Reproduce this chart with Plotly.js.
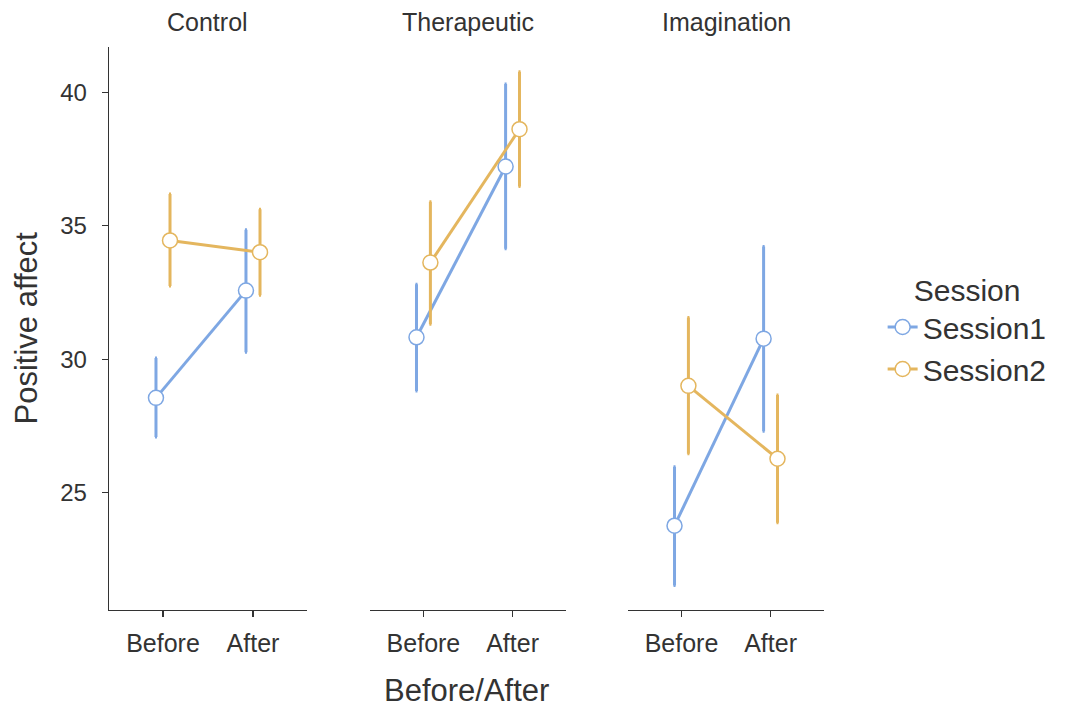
<!DOCTYPE html>
<html>
<head>
<meta charset="utf-8">
<script src="https://cdn.plot.ly/plotly-3.0.1.min.js"></script>
<style>
  html, body { margin: 0; padding: 0; background: #ffffff; }
  #chart { width: 1081px; height: 707px; }
</style>
</head>
<body>
<div id="chart"></div>
<script>
// Facets (conditions) and the two time points within each facet
const conditions = ['Control', 'Therapeutic', 'Imagination'];
const timepoints = ['Before', 'After'];
const sessions = ['Session1', 'Session2'];

// Means and confidence limits, ordered Control Before/After, Therapeutic Before/After, Imagination Before/After
const session1Mean = [28.55, 32.57, 30.82, 37.22, 23.76, 30.77];
const session1Low  = [27.08, 30.26, 28.81, 34.14, 21.52, 27.30];
const session1High = [30.04, 34.85, 32.81, 40.31, 25.97, 34.22];

const session2Mean = [34.45, 34.01, 33.62, 38.62, 29.00, 26.27];
const session2Low  = [32.74, 32.40, 31.31, 36.47, 26.46, 23.87];
const session2High = [36.19, 35.62, 35.90, 40.77, 31.56, 28.66];

const yTicks = [25, 30, 35, 40];

const sessionColors = ['#7ea7e3', '#e4b65e'];
const dodge = [-0.078, 0.078];   // horizontal dodge for each session
const fontFamily = 'Liberation Sans, Arial, Helvetica, sans-serif';
const textColor = '#333333';

const seriesMean = [session1Mean, session2Mean];
const seriesLow = [session1Low, session2Low];
const seriesHigh = [session1High, session2High];

const traces = [];
conditions.forEach((cond, ci) => {
  sessions.forEach((sess, si) => {
    const idx = timepoints.map((_, ti) => ci * timepoints.length + ti);
    const y = idx.map(i => seriesMean[si][i]);
    const up = idx.map(i => seriesHigh[si][i] - seriesMean[si][i]);
    const dn = idx.map(i => seriesMean[si][i] - seriesLow[si][i]);
    const x = timepoints.map((_, ti) => ti + 1 + dodge[si]);
    traces.push({
      type: 'scatter',
      mode: 'lines+markers',
      name: sess,
      showlegend: ci === 0,
      xaxis: ci === 0 ? 'x' : 'x' + (ci + 1),
      yaxis: 'y',
      x: x,
      y: y,
      line: { color: sessionColors[si], width: 3 },
      marker: {
        symbol: 'circle',
        size: 15,
        color: '#ffffff',
        line: { color: sessionColors[si], width: 1.5 }
      },
      error_y: {
        type: 'data',
        symmetric: false,
        array: up,
        arrayminus: dn,
        color: sessionColors[si],
        thickness: 3,
        width: 1
      },
      hoverinfo: 'x+y+name'
    });
  });
});

const domains = [[0, 0.2769], [0.3650, 0.6392], [0.7259, 1]];

function xAxis(di) {
  return {
    domain: domains[di],
    anchor: 'y',
    range: [0.4, 2.6],
    tickmode: 'array',
    tickvals: timepoints.map((_, i) => i + 1),
    ticktext: timepoints,
    showgrid: false,
    zeroline: false,
    showline: true,
    linecolor: '#333333',
    linewidth: 1.3,
    ticks: 'outside',
    ticklen: 6,
    tickwidth: 1.3,
    tickcolor: '#333333',
    ticklabelstandoff: 5,
    tickfont: { family: fontFamily, size: 25, color: textColor },
    fixedrange: true
  };
}

const annotations = conditions.map((cond, ci) => ({
  text: cond,
  xref: 'paper', yref: 'paper',
  x: (domains[ci][0] + domains[ci][1]) / 2, xanchor: 'center',
  y: 1, yanchor: 'middle', yshift: 25,
  showarrow: false,
  font: { family: fontFamily, size: 25, color: textColor }
}));
annotations.push({
  text: 'Before/After',
  xref: 'paper', yref: 'paper',
  x: 0.5, xanchor: 'center',
  y: 0, yanchor: 'middle', yshift: -80,
  showarrow: false,
  font: { family: fontFamily, size: 31, color: textColor }
});
annotations.push({
  text: 'Positive affect',
  xref: 'paper', yref: 'paper',
  x: 0, xanchor: 'center', xshift: -83,
  y: 0.5, yanchor: 'middle',
  textangle: -90,
  showarrow: false,
  font: { family: fontFamily, size: 31, color: textColor }
});

const layout = {
  width: 1081,
  height: 707,
  paper_bgcolor: '#ffffff',
  plot_bgcolor: '#ffffff',
  margin: { l: 109, r: 257, t: 47, b: 97 },
  showlegend: true,
  legend: {
    x: 1.082, xanchor: 'left',
    y: 0.5, yanchor: 'middle',
    title: { text: 'Session', side: 'top center', font: { family: fontFamily, size: 30, color: textColor } },
    font: { family: fontFamily, size: 30, color: textColor },
    bgcolor: 'rgba(0,0,0,0)',
    tracegroupgap: 0,
    itemwidth: 30
  },
  xaxis: xAxis(0),
  xaxis2: xAxis(1),
  xaxis3: xAxis(2),
  yaxis: {
    domain: [0, 1],
    anchor: 'x',
    range: [20.6, 41.7],
    tickmode: 'array',
    tickvals: yTicks,
    ticktext: yTicks.map(String),
    showgrid: false,
    zeroline: false,
    showline: true,
    linecolor: '#333333',
    linewidth: 1.3,
    ticks: 'outside',
    ticklen: 6,
    tickwidth: 1.3,
    tickcolor: '#333333',
    ticklabelstandoff: 10,
    tickfont: { family: fontFamily, size: 24, color: textColor },
    fixedrange: true
  },
  annotations: annotations
};

Plotly.newPlot('chart', traces, layout, { displayModeBar: false, staticPlot: true });
</script>
</body>
</html>
